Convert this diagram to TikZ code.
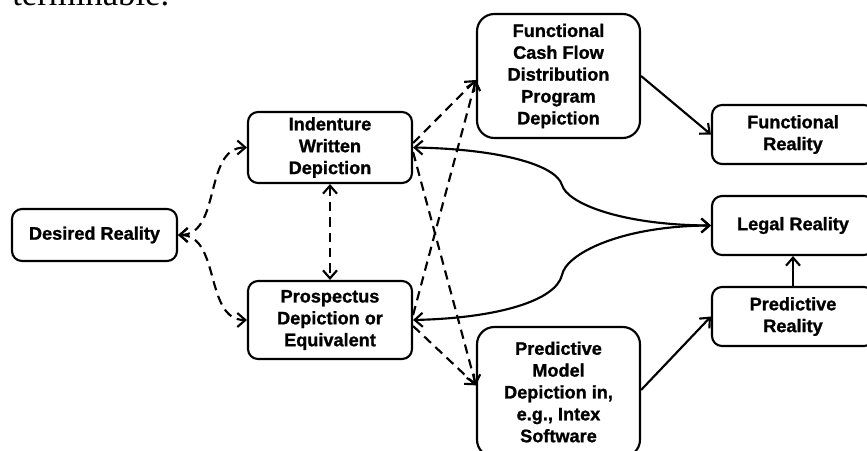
\documentclass[tikz,border=0pt]{standalone}
\usepackage{fontspec}
\setmainfont[BoldFeatures={FakeBold=1.2}]{Liberation Sans}
\newfontfamily\topserif{Liberation Serif}
\usetikzlibrary{arrows.meta}
\tikzset{
  tip/.tip={Straight Barb[length=6pt,width=10.5pt,line width=1.6pt]},
  box/.style={draw, line width=1.6pt, rounded corners=7.5pt, align=center, inner sep=0pt,
    font=\fontsize{13.6pt}{16.4pt}\selectfont\bfseries},
  bigbox/.style={box, rounded corners=13pt},
  conn/.style={line width=1.6pt, arrows={-tip}},
  biconn/.style={line width=1.6pt, arrows={tip-tip}},
  dsh/.style={dash pattern=on 7pt off 4.5pt}
}
\begin{document}
\begin{tikzpicture}[x=0.75pt,y=-0.75pt]
\useasboundingbox (0,0) rectangle (867,450);
\clip (0,0) rectangle (867,450);
\node[anchor=base west, inner sep=0pt, font=\topserif\fontsize{26pt}{30pt}\selectfont] (top) at (12,5) {terminable.};
\node[box, minimum width=123.75pt, minimum height=39pt] (des) at (94.5,235) {Desired Reality};
\node[box, minimum width=123pt, minimum height=53.25pt] (ind) at (330,147.5) {Indenture\\Written\\Depiction};
\node[box, minimum width=123pt, minimum height=58.5pt] (pro) at (330,320) {Prospectus\\Depiction or\\Equivalent};
\node[bigbox, minimum width=122.25pt, minimum height=93pt] (fcf) at (558.5,76) {Functional\\Cash Flow\\Distribution\\Program\\Depiction};
\node[bigbox, minimum width=122.25pt, minimum height=97.5pt] (pm) at (558.5,392) {Predictive\\Model\\Depiction in,\\e.g., Intex\\Software};
\node[box, minimum width=121.5pt, minimum height=44.25pt] (fr) at (793,134.5) {Functional\\Reality};
\node[box, minimum width=121.5pt, minimum height=44.25pt] (lr) at (793,225.5) {Legal Reality};
\node[box, minimum width=121.5pt, minimum height=44.25pt] (pr) at (793,316.5) {Predictive\\Reality};
% dashed connectors
\draw[biconn, dsh] (des.east) to[out=0,in=180] (ind.west);
\draw[biconn, dsh] (des.east) to[out=0,in=180] (pro.west);
\draw[biconn, dsh] (ind.south) -- (pro.north);
\draw[conn, dsh] ([yshift=3.4pt]ind.east) -- ([yshift=-3pt]fcf.west);
\draw[conn, dsh] ([yshift=-3.4pt]ind.east) -- ([yshift=5pt]pm.west);
\draw[conn, dsh] ([yshift=3.7pt]pro.east) -- ([yshift=-3pt]fcf.west);
\draw[conn, dsh] ([yshift=-4.5pt]pro.east) -- ([yshift=5pt]pm.west);
% solid connectors
\draw[biconn] (ind.east) .. controls (500,149) and (556,165) .. (562,185) .. controls (567,203) and (620,225) .. (lr.west);
\draw[biconn] (pro.east) .. controls (500,318) and (556,300) .. (562,275) .. controls (566,254) and (620,226) .. (lr.west);
\draw[conn] (fcf.east) -- (fr.west);
\draw[conn] ([yshift=1.5pt]pm.east) -- (pr.west);
\draw[conn] (pr.north) -- (lr.south);
\end{tikzpicture}
\end{document}
